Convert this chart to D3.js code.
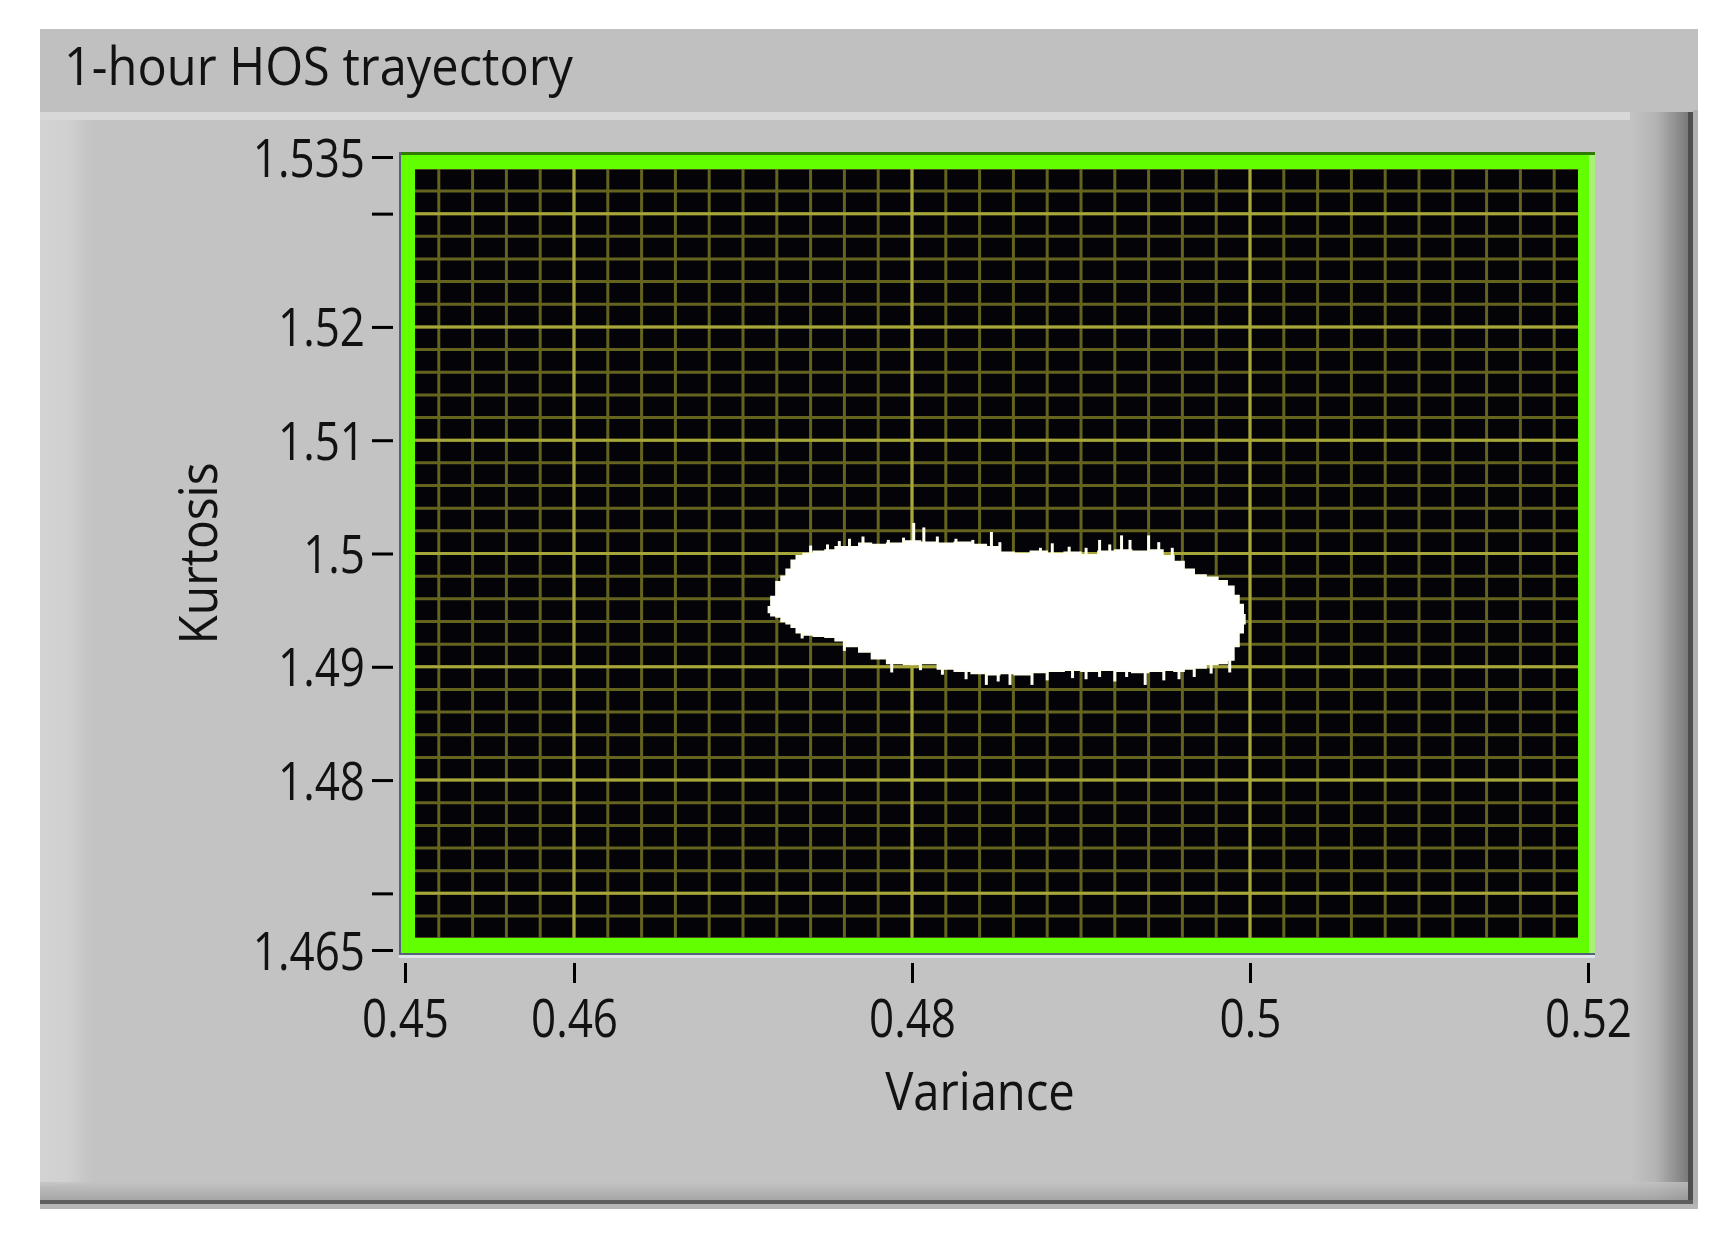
<!DOCTYPE html>
<html><head><meta charset="utf-8">
<script src="https://cdn.jsdelivr.net/npm/d3@7"></script>
<style>html,body{margin:0;padding:0;background:#fff;} svg{display:block;}</style>
</head><body>
<svg id="chart" width="1735" height="1241"></svg>
<script>
// ---------- data ----------
const title = "1-hour HOS trayectory";
const xLabel = "Variance";
const yLabel = "Kurtosis";
const xDomain = [0.45, 0.52];
const yDomain = [1.465, 1.535];
const xTicks = [0.45, 0.46, 0.48, 0.5, 0.52];
const xTickLabels = ["0.45", "0.46", "0.48", "0.5", "0.52"];
const yTicks = [1.535, 1.53, 1.52, 1.51, 1.5, 1.49, 1.48, 1.47, 1.465];
const yTickLabels = ["1.535", "", "1.52", "1.51", "1.5", "1.49", "1.48", "", "1.465"];
const gridStep = 0.002;

// envelope of the dense trajectory cloud
const cloudVariance = [0.4715, 0.4718, 0.4721, 0.4724, 0.4727, 0.4730, 0.4733, 0.4738, 0.4745, 0.4752,
  0.4757, 0.4765, 0.4772, 0.4780, 0.4790, 0.4800, 0.4810, 0.4820, 0.4830, 0.4840,
  0.4848, 0.4856, 0.4865, 0.4875, 0.4885, 0.4895, 0.4905, 0.4915, 0.4925, 0.4935,
  0.4945, 0.4952, 0.4958, 0.4964, 0.4970, 0.4978, 0.4984, 0.4989, 0.4992, 0.4995, 0.4997];
const cloudUpper = [1.4953, 1.4962, 1.4975, 1.4980, 1.4986, 1.4994, 1.4998, 1.5000, 1.5002, 1.5003,
  1.5006, 1.5006, 1.5009, 1.5008, 1.5009, 1.5011, 1.5010, 1.5009, 1.5010, 1.5008,
  1.5006, 1.5001, 1.5000, 1.5002, 1.5000, 1.5001, 1.4999, 1.5002, 1.5003, 1.5002,
  1.5003, 1.4998, 1.4993, 1.4986, 1.4981, 1.4979, 1.4976, 1.4971, 1.4963, 1.4955, 1.4946];
const cloudLower = [1.4948, 1.4945, 1.4944, 1.4940, 1.4938, 1.4935, 1.4930, 1.4928, 1.4927, 1.4926,
  1.4923, 1.4918, 1.4913, 1.4907, 1.4903, 1.4902, 1.4903, 1.4898, 1.4896, 1.4894,
  1.4893, 1.4894, 1.4893, 1.4895, 1.4896, 1.4897, 1.4896, 1.4897, 1.4896, 1.4895,
  1.4896, 1.4897, 1.4896, 1.4898, 1.4899, 1.4902, 1.4903, 1.4906, 1.4918, 1.4930, 1.4938];

// outlying points sticking out of the cloud
const spikeVariance = [0.4740, 0.4750, 0.4757, 0.4763, 0.4771, 0.4786, 0.4795, 0.4801, 0.4807, 0.4815,
  0.4826, 0.4836, 0.4847, 0.4852, 0.4876, 0.4883, 0.4893, 0.4903, 0.4911, 0.4917, 0.4924, 0.4929,
  0.4940, 0.4946, 0.4954,
  0.4735, 0.4760, 0.4788, 0.4805, 0.4818, 0.4832, 0.4844, 0.4851, 0.4858, 0.4871, 0.4880, 0.4895,
  0.4903, 0.4911, 0.4920, 0.4927, 0.4938, 0.4949, 0.4958, 0.4967, 0.4977, 0.4988];
const spikeKurtosis = [1.5007, 1.5008, 1.5011, 1.5013, 1.5015, 1.5012, 1.5014, 1.5027, 1.5023, 1.5015,
  1.5013, 1.5012, 1.5019, 1.5010, 1.5005, 1.5009, 1.5006, 1.5005, 1.5012, 1.5008, 1.5016, 1.5012,
  1.5016, 1.5010, 1.5005,
  1.4925, 1.4914, 1.4895, 1.4897, 1.4893, 1.4889, 1.4884, 1.4887, 1.4884, 1.4884, 1.4888, 1.4890,
  1.4889, 1.4891, 1.4887, 1.4891, 1.4884, 1.4888, 1.4889, 1.4891, 1.4894, 1.4895];

// ---------- layout ----------
const svg = d3.select("#chart");
const x = d3.scaleLinear().domain(xDomain).range([405, 1588]);
const y = d3.scaleLinear().domain(yDomain).range([950, 157]);
const FONT = "'Open Sans', 'Noto Sans', sans-serif";
const FS = 53;
const TEXT = "#121212";

const defs = svg.append("defs");
function grad(id, x2, y2, stops) {
  const g = defs.append("linearGradient").attr("id", id).attr("x1", 0).attr("y1", 0).attr("x2", x2).attr("y2", y2);
  stops.forEach(s => g.append("stop").attr("offset", s[0]).attr("stop-color", s[1]));
}
grad("rightBevel", 1, 0, [[0, "#c3c3c3"], [0.45, "#b4b4b4"], [1, "#7a7a7a"]]);
grad("bottomBevel", 0, 1, [[0, "#c3c3c3"], [1, "#a0a0a0"]]);
grad("leftStrip", 1, 0, [[0, "#d3d3d3"], [0.55, "#d0d0d0"], [1, "#c3c3c3"]]);

// panel
svg.append("rect").attr("x", 40).attr("y", 29).attr("width", 1658).attr("height", 1180).attr("fill", "#c3c3c3");
svg.append("rect").attr("x", 40).attr("y", 29).attr("width", 1658).attr("height", 83).attr("fill", "#c0c0c0");
svg.append("rect").attr("x", 40).attr("y", 112).attr("width", 1620).attr("height", 8).attr("fill", "#d8d8d8");
svg.append("rect").attr("x", 40).attr("y", 120).attr("width", 52).attr("height", 1065).attr("fill", "url(#leftStrip)");
svg.append("rect").attr("x", 1630).attr("y", 112).attr("width", 58).attr("height", 1092).attr("fill", "url(#rightBevel)");
svg.append("rect").attr("x", 1688).attr("y", 112).attr("width", 5).attr("height", 1092).attr("fill", "#4e4e4e");
svg.append("rect").attr("x", 1693).attr("y", 110).attr("width", 5).attr("height", 1099).attr("fill", "#b0b0b0");
svg.append("rect").attr("x", 40).attr("y", 1182).attr("width", 1648).attr("height", 18).attr("fill", "url(#bottomBevel)").attr("opacity", 0.8);
svg.append("rect").attr("x", 40).attr("y", 1200).attr("width", 1653).attr("height", 4).attr("fill", "#5e5e5e");
svg.append("rect").attr("x", 40).attr("y", 1204).attr("width", 1658).attr("height", 5).attr("fill", "#b6b6b6");

// title
svg.append("g").attr("transform", "translate(64,85) scale(0.92,1)")
  .append("text").text(title).attr("font-family", FONT).attr("font-size", FS).attr("fill", TEXT);

// plot frame (derived from scale range)
const [xl, xr] = x.range();
const [yb, yt] = y.range();
svg.append("rect").attr("x", xl - 6).attr("y", yt - 5).attr("width", xr - xl + 13).attr("height", yb - yt + 11).attr("fill", "#55627a");
svg.append("rect").attr("x", xl - 4).attr("y", yt - 5).attr("width", xr - xl + 11).attr("height", 3).attr("fill", "#2f7a00");
svg.append("rect").attr("x", xl - 4).attr("y", yt - 2).attr("width", xr - xl + 11).attr("height", yb - yt + 5).attr("fill", "#62ff00");
svg.append("rect").attr("x", xr + 1).attr("y", yt - 2).attr("width", 6).attr("height", yb - yt + 5).attr("fill", "#a8f27a");
svg.append("rect").attr("x", xl - 6).attr("y", yb + 5).attr("width", xr - xl + 13).attr("height", 3).attr("fill", "#dfe4ea");

const inner = { x: xl + 10, y: yt + 12, w: (xr - 10) - (xl + 10), h: (yb - 12) - (yt + 12) };
svg.append("rect").attr("x", inner.x).attr("y", inner.y).attr("width", inner.w).attr("height", inner.h).attr("fill", "#040308");
defs.append("clipPath").attr("id", "plotClip").append("rect")
  .attr("x", inner.x).attr("y", inner.y).attr("width", inner.w).attr("height", inner.h);

const plot = svg.append("g").attr("clip-path", "url(#plotClip)");

// grid
const xMinor = d3.range(Math.round(xDomain[0] / gridStep), Math.round(xDomain[1] / gridStep) + 1).map(i => +(i * gridStep).toFixed(4));
const yMinor = d3.range(Math.ceil(yDomain[0] / gridStep), Math.floor(yDomain[1] / gridStep) + 1).map(i => +(i * gridStep).toFixed(4));
const minorColor = "#64641f", majorColor = "#a6a63a";
plot.selectAll(".vminor").data(xMinor).join("line")
  .attr("x1", d => x(d)).attr("x2", d => x(d)).attr("y1", inner.y).attr("y2", inner.y + inner.h)
  .attr("stroke", minorColor).attr("stroke-width", 3);
plot.selectAll(".hminor").data(yMinor).join("line")
  .attr("y1", d => y(d)).attr("y2", d => y(d)).attr("x1", inner.x).attr("x2", inner.x + inner.w)
  .attr("stroke", minorColor).attr("stroke-width", 3);
plot.selectAll(".vmajor").data(xTicks).join("line")
  .attr("x1", d => x(d)).attr("x2", d => x(d)).attr("y1", inner.y).attr("y2", inner.y + inner.h)
  .attr("stroke", majorColor).attr("stroke-width", 3);
plot.selectAll(".hmajor").data(yTicks).join("line")
  .attr("y1", d => y(d)).attr("y2", d => y(d)).attr("x1", inner.x).attr("x2", inner.x + inner.w)
  .attr("stroke", majorColor).attr("stroke-width", 3);

// cloud
const cloud = cloudVariance.map((v, i) => ({ v, hi: cloudUpper[i], lo: cloudLower[i] }));
const bis = d3.bisector(d => d.v).center;
const spikes = spikeVariance.map((v, i) => {
  const c = cloud[bis(cloud, v)];
  return { v, k: spikeKurtosis[i], base: (c.hi + c.lo) / 2 };
});
plot.selectAll(".spike").data(spikes).join("line")
  .attr("x1", d => x(d.v)).attr("x2", d => x(d.v))
  .attr("y1", d => y(d.k)).attr("y2", d => y(d.base))
  .attr("stroke", "#fffff2").attr("stroke-width", 3);
plot.append("path").datum(cloud)
  .attr("d", d3.area().x(d => x(d.v)).y0(d => y(d.lo)).y1(d => y(d.hi)).curve(d3.curveStep))
  .attr("fill", "#ffffff").attr("stroke", "#fffff0").attr("stroke-width", 1.5);

// axes
const yAxis = d3.axisLeft(y).tickValues(yTicks).tickSize(21)
  .tickFormat(d => yTickLabels[yTicks.indexOf(d)]);
const gy = svg.append("g").attr("transform", "translate(393,0)").call(yAxis);
gy.select(".domain").remove();
gy.selectAll(".tick line").attr("stroke", "#000").attr("stroke-width", 3);
gy.selectAll(".tick text").attr("x", null).attr("dy", null)
  .attr("transform", "translate(-28,19) scale(0.83,1)")
  .attr("font-family", FONT).attr("font-size", FS).attr("fill", TEXT).attr("text-anchor", "end");

const xAxis = d3.axisBottom(x).tickValues(xTicks).tickSize(20)
  .tickFormat(d => xTickLabels[xTicks.indexOf(d)]);
const gx = svg.append("g").attr("transform", "translate(0,963)").call(xAxis);
gx.select(".domain").remove();
gx.selectAll(".tick line").attr("stroke", "#000").attr("stroke-width", 3);
gx.selectAll(".tick text").attr("y", null).attr("dy", null)
  .attr("transform", "translate(0,74) scale(0.83,1)")
  .attr("font-family", FONT).attr("font-size", FS).attr("fill", TEXT).attr("text-anchor", "middle");

// axis titles
svg.append("g").attr("transform", "translate(980,1110) scale(0.89,1)")
  .append("text").text(xLabel).attr("text-anchor", "middle")
  .attr("font-family", FONT).attr("font-size", FS).attr("fill", TEXT);
svg.append("g").attr("transform", `translate(217,${(yt + yb) / 2}) rotate(-90) scale(0.905,1)`)
  .append("text").text(yLabel).attr("text-anchor", "middle")
  .attr("font-family", FONT).attr("font-size", FS).attr("fill", TEXT);
</script>
</body></html>
